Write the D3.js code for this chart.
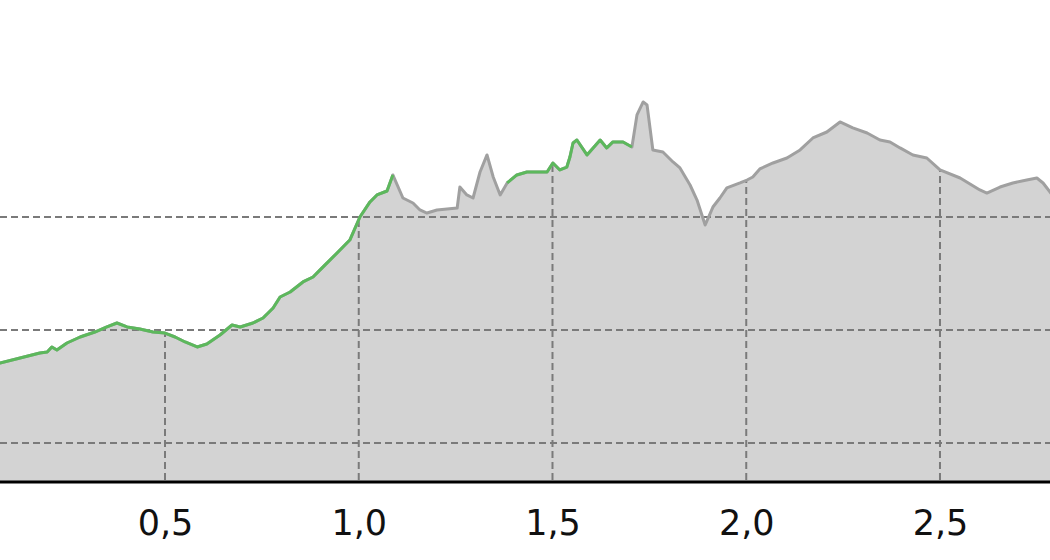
<!DOCTYPE html>
<html>
<head>
<meta charset="utf-8">
<script src="https://cdn.jsdelivr.net/npm/d3@7"></script>
<style>
	body { margin: 0; background: #fff; }
	svg { display: block; }
</style>
</head>
<body>
<script>

// distance (km) along the route
var distance = [0.05, 0.074, 0.126, 0.177, 0.196, 0.208, 0.221, 0.247, 0.281, 0.319,
	0.350, 0.376, 0.402, 0.435, 0.469, 0.500, 0.526, 0.552, 0.583, 0.608,
	0.642, 0.673, 0.694, 0.727, 0.753, 0.779, 0.797, 0.823, 0.856, 0.882,
	0.908, 0.944, 0.977, 1.003, 1.029, 1.047, 1.073, 1.088, 1.114, 1.140,
	1.158, 1.176, 1.202, 1.228, 1.254, 1.261, 1.279, 1.295, 1.313, 1.331,
	1.347, 1.365, 1.383, 1.408, 1.434, 1.450, 1.486, 1.501, 1.519, 1.537,
	1.545, 1.553, 1.563, 1.589, 1.623, 1.640, 1.656, 1.682, 1.705, 1.718,
	1.734, 1.744, 1.759, 1.785, 1.811, 1.829, 1.855, 1.873, 1.894, 1.914,
	1.932, 1.950, 1.984, 2.002, 2.017, 2.035, 2.069, 2.105, 2.139, 2.172,
	2.208, 2.242, 2.275, 2.312, 2.345, 2.371, 2.397, 2.430, 2.466, 2.500,
	2.552, 2.603, 2.621, 2.655, 2.688, 2.724, 2.750, 2.766, 2.784, 2.810];

// elevation (m) at each distance
var elevation = [168.0, 170.8, 175.2, 179.6, 180.5, 185.0, 182.3, 188.5, 193.8, 198.2,
	202.7, 206.2, 202.7, 200.9, 198.2, 197.3, 193.8, 189.4, 185.0, 187.6,
	195.6, 204.4, 202.7, 206.2, 210.6, 219.5, 229.2, 233.6, 242.5, 246.9,
	255.8, 268.1, 279.6, 300.0, 313.3, 319.5, 323.0, 337.2, 316.8, 312.4,
	306.2, 303.5, 306.2, 307.1, 308.0, 326.5, 319.5, 316.8, 339.8, 354.9,
	335.4, 319.5, 330.1, 337.2, 339.8, 339.8, 339.8, 347.8, 341.6, 344.2,
	353.1, 365.5, 368.1, 354.9, 368.1, 361.1, 366.4, 366.4, 361.9, 390.3,
	401.8, 399.1, 359.3, 357.5, 348.7, 343.4, 328.3, 315.0, 292.9, 308.8,
	316.8, 325.7, 330.1, 332.7, 335.4, 342.5, 347.8, 352.2, 359.3, 369.9,
	375.2, 384.1, 378.8, 374.3, 368.1, 366.4, 361.1, 354.9, 352.2, 341.6,
	334.5, 323.9, 321.2, 326.5, 330.1, 332.7, 334.5, 330.1, 322.1, 310.0];

// stretches of the route that are highlighted (from, to in km)
var highlightFrom = [0, 1.383];
var highlightTo = [1.088, 1.705];

var xTicks = [0.5, 1.0, 1.5, 2.0, 2.5];
var yGrid = [100, 200, 300];

var width = 1050,
	height = 560,
	axisY = 482;

var data = distance.map(function(d, i) {
	return {dist: d, ele: elevation[i]};
});

var x = d3.scaleLinear()
	.domain([0.0742, 2.7839])
	.range([0, width]);

var y = d3.scaleLinear()
	.domain([65.5, 492])
	.range([axisY, 0]);

var svg = d3.select('body').append('svg')
	.attr('width', width)
	.attr('height', height);

var area = d3.area()
	.x(function(d) { return x(d.dist); })
	.y0(axisY)
	.y1(function(d) { return y(d.ele); });

var line = d3.line()
	.x(function(d) { return x(d.dist); })
	.y(function(d) { return y(d.ele); });

// clip for the vertical grid lines, they stop at the profile
svg.append('defs')
	.append('clipPath')
	.attr('id', 'profileClip')
	.append('path')
	.attr('d', area(data));

// filled profile
svg.append('path')
	.attr('d', area(data))
	.attr('fill', '#d3d3d3');

// horizontal grid lines
svg.append('g')
	.selectAll('line')
	.data(yGrid)
	.enter().append('line')
	.attr('x1', 0)
	.attr('x2', width)
	.attr('y1', function(d) { return y(d); })
	.attr('y2', function(d) { return y(d); })
	.attr('stroke', '#7a7a7a')
	.attr('stroke-width', 2)
	.attr('stroke-dasharray', '7,4');

// vertical grid lines
svg.append('g')
	.attr('clip-path', 'url(#profileClip)')
	.selectAll('line')
	.data(xTicks)
	.enter().append('line')
	.attr('x1', function(d) { return x(d); })
	.attr('x2', function(d) { return x(d); })
	.attr('y1', 0)
	.attr('y2', axisY)
	.attr('stroke', '#7a7a7a')
	.attr('stroke-width', 2)
	.attr('stroke-dasharray', '7,4');

// profile outline
svg.append('path')
	.attr('d', line(data))
	.attr('fill', 'none')
	.attr('stroke', '#a0a0a0')
	.attr('stroke-width', 3)
	.attr('stroke-linejoin', 'round');

// highlighted parts
highlightFrom.forEach(function(from, i) {
	var part = data.filter(function(d) {
		return d.dist >= from && d.dist <= highlightTo[i];
	});
	svg.append('path')
		.attr('d', line(part))
		.attr('fill', 'none')
		.attr('stroke', '#5cb85c')
		.attr('stroke-width', 3)
		.attr('stroke-linejoin', 'round');
});

// x axis
var xAxis = d3.axisBottom(x)
	.tickValues(xTicks)
	.tickSize(0)
	.tickPadding(28)
	.tickFormat(function(d) { return d3.format('.1f')(d).replace('.', ','); });

var gx = svg.append('g')
	.attr('transform', 'translate(0,' + axisY + ')')
	.call(xAxis);

gx.select('.domain').remove();
gx.selectAll('text')
	.attr('font-family', 'DejaVu Sans')
	.attr('font-size', 35)
	.attr('fill', '#111');

svg.append('line')
	.attr('x1', 0)
	.attr('x2', width)
	.attr('y1', axisY)
	.attr('y2', axisY)
	.attr('stroke', '#000')
	.attr('stroke-width', 3);

</script>
</body>
</html>
